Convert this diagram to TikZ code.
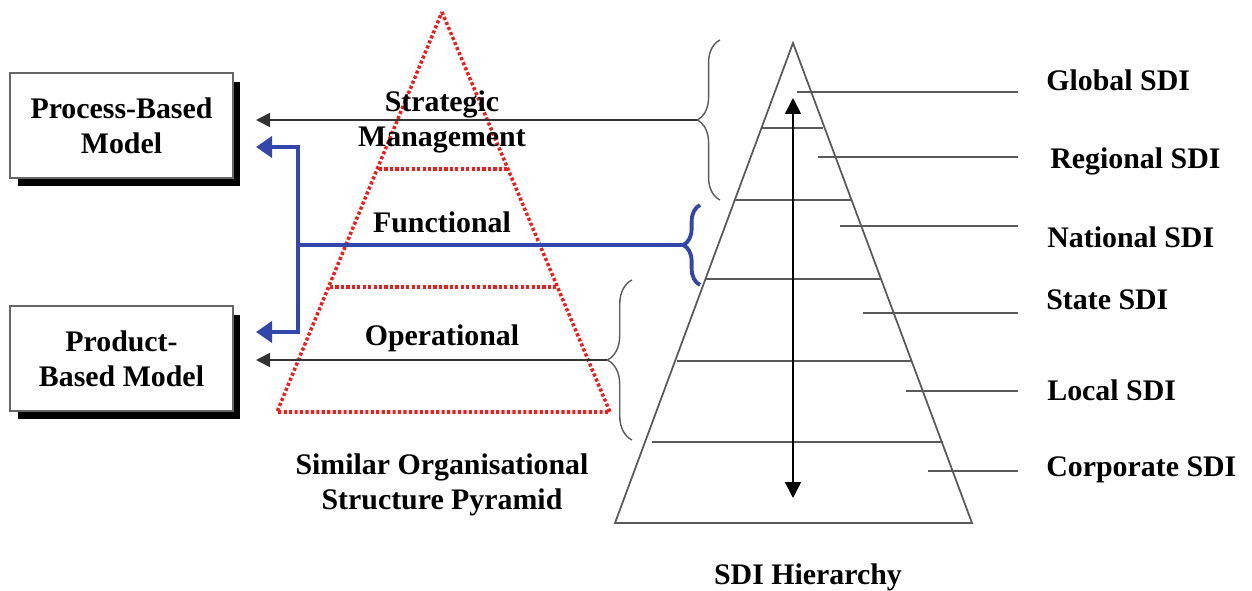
\documentclass[tikz,border=0pt]{standalone}
\usepackage{fontspec}
\setmainfont{Liberation Serif}
\usetikzlibrary{arrows.meta,decorations.pathreplacing,shadows}
\definecolor{linkblue}{RGB}{50,70,172}
\definecolor{dotred}{RGB}{236,30,30}
\tikzset{
  modelbox/.style={draw=black!60,line width=1.2pt,fill=white,align=center,
    minimum width=4.46cm,minimum height=2.1cm,inner sep=2pt,
    font=\fontsize{17}{20}\selectfont\bfseries,text=black,
    general shadow={fill=black,shadow xshift=0.15cm,shadow yshift=-0.17cm}},
  lbl/.style={font=\fontsize{17}{20}\selectfont\bfseries,text=black,align=center,inner sep=0pt},
  redpyr/.style={draw=dotred,line width=2pt,dash pattern=on 1.8pt off 1.3pt},
  sdiline/.style={draw=black!65,line width=1pt},
  thinarrow/.style={draw=black!80,line width=1pt,-{Triangle[length=0.28cm,width=0.28cm]}},
  blueline/.style={draw=linkblue,line width=2.2pt},
  bluearrow/.style={blueline,-{Triangle[length=0.32cm,width=0.42cm]}},
  bracket/.style={decorate,decoration={brace,amplitude=#1}},
}
\begin{document}
\begin{tikzpicture}[x=0.02cm,y=-0.02cm]
      \useasboundingbox (0,0) rectangle (1252,591);
      \node[modelbox] (process) at (121.5,125.5) {Process-Based\\Model};
      \node[modelbox] (product) at (121.5,358.5) {Product-\\Based Model};
      \draw[redpyr] (442,12) -- (610,412) -- (277,412) -- cycle;
      \draw[redpyr] (379,169) -- (507,169);
      \draw[redpyr] (330,287) -- (558,287);
      \node[lbl] (strat) at (442,122) {Strategic\\Management};
      \node[lbl] (func) at (442,222) {Functional};
      \node[lbl] (oper) at (442,338) {Operational};
      \node[lbl] (simil) at (442,485) {Similar Organisational\\Structure Pyramid};
      \draw[sdiline] (793,43) -- (972,523) -- (615,523) -- cycle;
      \draw[sdiline] (762,128) -- (823,128);
      \draw[sdiline] (735,200) -- (852,200);
      \draw[sdiline] (705,279) -- (882,279);
      \draw[sdiline] (677,361) -- (912,361);
      \draw[sdiline] (652,442) -- (943,442);
      \draw[draw=black,line width=1pt,{Triangle[length=0.32cm,width=0.32cm]}-{Triangle[length=0.32cm,width=0.32cm]}] (793,98) -- (793,498);
      \draw[sdiline] (797,92) -- (1018,92);
      \draw[sdiline] (818,157) -- (1018,157);
      \draw[sdiline] (840,226) -- (1018,226);
      \draw[sdiline] (863,313) -- (1018,313);
      \draw[sdiline] (906,391) -- (1018,391);
      \draw[sdiline] (928,471) -- (1018,471);
      \node[lbl,anchor=west] (global) at (1046,80) {Global SDI};
      \node[lbl,anchor=west] (regional) at (1050,161) {Regional SDI};
      \node[lbl,anchor=west] (national) at (1047,237) {National SDI};
      \node[lbl,anchor=west] (state) at (1046,300) {State SDI};
      \node[lbl,anchor=west] (local) at (1047,390) {Local SDI};
      \node[lbl,anchor=west] (corporate) at (1046,470) {Corporate SDI};
      \node[lbl] (hier) at (808,577) {SDI Hierarchy};
      \draw[sdiline,line width=0.8pt,bracket=13pt] (720,200) -- (720,40);
      \draw[blueline,bracket=9.5pt] (700,285) -- (700,205);
      \draw[sdiline,line width=0.8pt,bracket=14pt] (632,440) -- (632,280);
      \coordinate (stratTip) at (697,120);
      \coordinate (funcTip) at (683,245);
      \coordinate (operTip) at (607,360);
      \coordinate (funcJoin) at (298,245);
      \coordinate (funcUp) at (298,147);
      \coordinate (funcDown) at (298,332);
      \draw[thinarrow,shorten >=0.44cm] (stratTip) -- (stratTip -| process.east);
      \draw[thinarrow,shorten >=0.44cm] (operTip) -- (operTip -| product.east);
      \draw[blueline] (funcTip) -- (funcJoin);
      \draw[bluearrow,shorten >=0.44cm] (funcJoin) -- (funcUp) -- (funcUp -| process.east);
      \draw[bluearrow,shorten >=0.44cm] (funcJoin) -- (funcDown) -- (funcDown -| product.east);
    \end{tikzpicture}
\end{document}
